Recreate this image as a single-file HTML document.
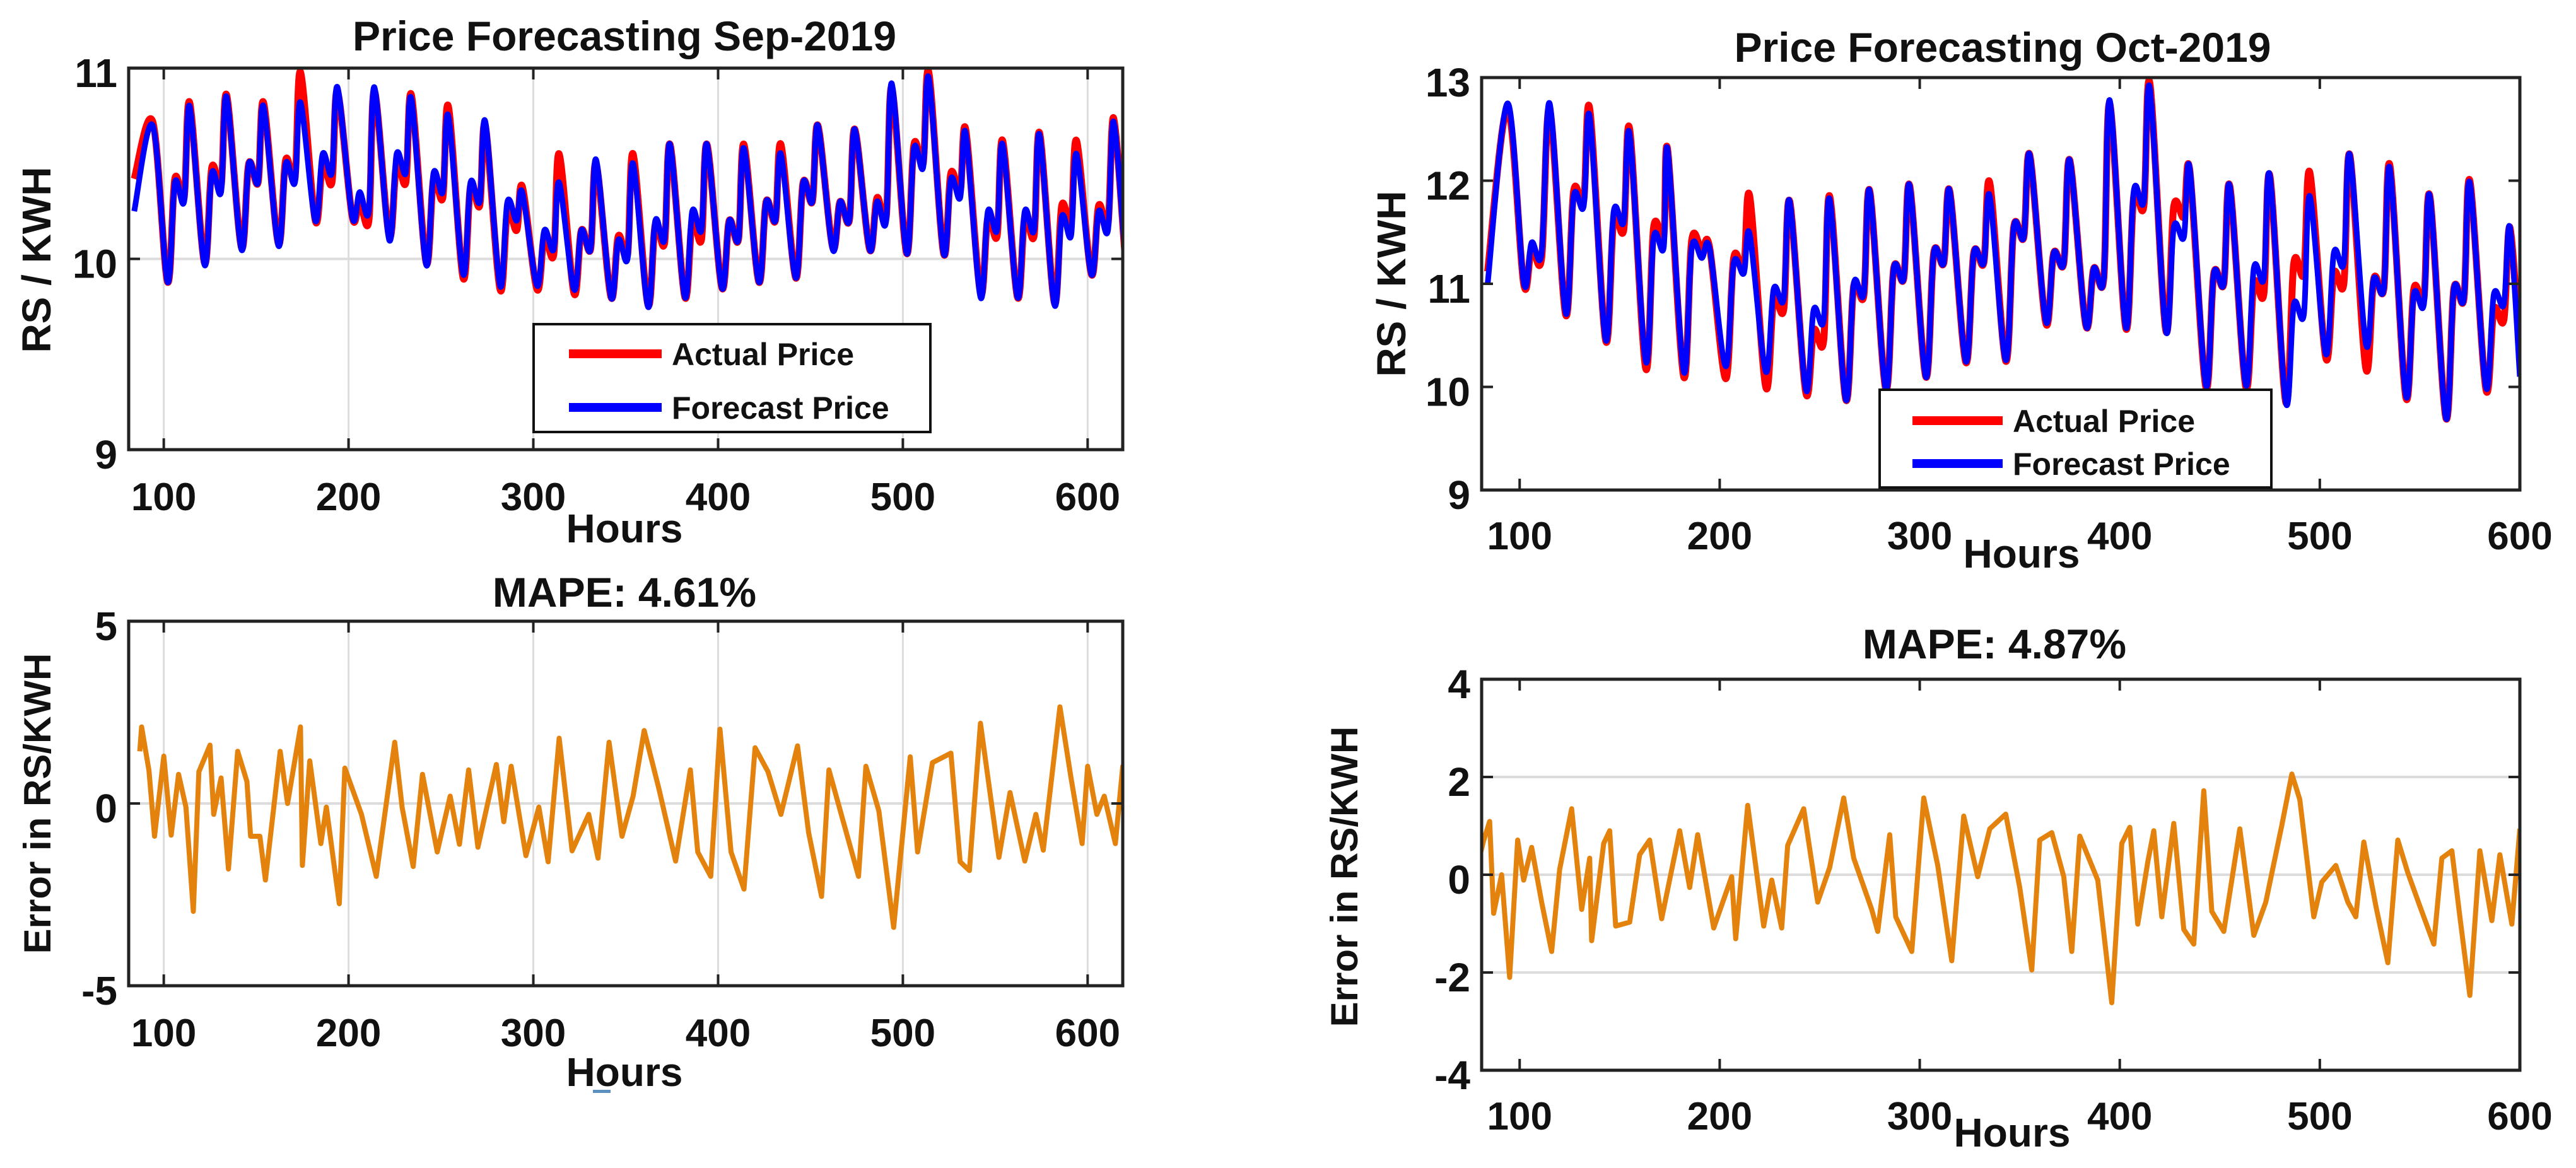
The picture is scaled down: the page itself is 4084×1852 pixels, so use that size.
<!DOCTYPE html>
<html><head><meta charset="utf-8">
<style>
html,body{margin:0;padding:0;background:#fff}
svg{display:block}
text{font-family:"Liberation Sans",Arial,sans-serif;font-weight:bold;fill:#111}
</style></head>
<body>
<svg id="chart" width="4084" height="1852" viewBox="0 0 4084 1852" xmlns="http://www.w3.org/2000/svg"></svg>
<script>
// ---- Sep-2019 price data (per daily cycle) ----
const sepPeakHours=[94,114,134,154,174,194,214,234,254,274,294,314,334,354,374,394,414,434,454,474,494,514,534,554,574,594,614];
const sepPeakA=[10.72,10.82,10.86,10.82,10.98,10.88,10.88,10.86,10.8,10.7,10.38,10.55,10.5,10.55,10.6,10.6,10.6,10.6,10.7,10.68,10.9,10.98,10.68,10.62,10.66,10.62,10.74];
const sepPeakF=[10.7,10.8,10.85,10.8,10.82,10.9,10.9,10.84,10.75,10.72,10.35,10.4,10.52,10.5,10.6,10.6,10.58,10.55,10.7,10.68,10.92,10.95,10.66,10.6,10.65,10.55,10.72];
const sepTroughA=[9.88,9.98,10.06,10.08,10.2,10.22,10.12,9.98,9.9,9.84,9.84,9.82,9.8,9.76,9.8,9.85,9.88,9.9,10.06,10.05,10.03,10.03,9.82,9.8,9.77,9.92,10.05];
const sepTroughF=[9.88,9.97,10.05,10.07,10.2,10.22,10.1,9.97,9.92,9.86,9.86,9.84,9.8,9.75,9.8,9.85,9.88,9.9,10.05,10.05,10.03,10.03,9.8,9.8,9.76,9.92,10.05];
const sepBumpA=[10.42,10.48,10.5,10.52,10.5,10.3,10.5,10.42,10.38,10.25,10.12,10.15,10.12,10.18,10.2,10.2,10.3,10.4,10.3,10.32,10.6,10.45,10.22,10.22,10.28,10.28,10.1];
const sepBumpF=[10.4,10.45,10.5,10.5,10.55,10.35,10.55,10.45,10.4,10.3,10.15,10.15,10.1,10.2,10.25,10.2,10.3,10.4,10.3,10.3,10.58,10.42,10.25,10.25,10.22,10.25,10.1];
const sepStartA=10.42, sepStartF=10.25;
// ---- Oct-2019 price data ----
const octPeakHours=[94,115,135,155,174,195,215,235,255,275,295,315,335,355,375,395,415,435,455,475,495,515,535,555,575,595];
const octPeakA=[12.7,12.7,12.7,12.5,12.3,11.35,11.85,11.8,11.85,11.9,11.95,11.9,11.98,12.25,12.2,12.75,12.95,12.1,11.95,12.05,12.08,12.25,12.15,11.85,12.0,11.55];
const octPeakF=[12.75,12.75,12.62,12.45,12.3,11.34,11.48,11.8,11.82,11.9,11.95,11.9,11.85,12.25,12.2,12.78,12.9,12.12,11.95,12.05,11.85,12.25,12.12,11.85,11.98,11.55];
const octTroughA=[11.0,10.7,10.45,10.18,10.1,10.08,10.0,9.95,9.88,9.98,10.1,10.24,10.25,10.62,10.6,10.57,10.55,10.0,10.0,9.85,10.28,10.18,9.9,9.7,9.98,10.3];
const octTroughF=[11.02,10.72,10.46,10.25,10.15,10.2,10.15,9.98,9.88,9.98,10.1,10.25,10.26,10.64,10.6,10.58,10.55,10.02,10.02,9.85,10.32,10.42,9.92,9.7,10.0,10.1];
const octBumpA=[11.35,11.9,11.62,11.55,11.42,11.25,10.85,10.55,10.98,11.15,11.3,11.3,11.55,11.3,11.15,11.85,11.75,11.1,11.0,11.2,11.1,11.05,10.95,10.95,10.75,10.9];
const octBumpF=[11.4,11.85,11.7,11.45,11.35,11.2,10.95,10.75,11.0,11.15,11.3,11.3,11.55,11.3,11.15,11.9,11.55,11.1,11.15,10.8,11.3,11.05,10.9,10.95,10.9,10.9];
const octStartA=11.12, octStartF=11.0;
// ---- Error data ----
const sepErrHours=[87,88,92,95,100,104,108,112,116,119,125,127,131,135,140,145,147,152,155,163,167,174,175,179,185,188,195,198,207,215,225,229,235,240,248,255,260,265,270,280,284,288,296,303,308,314,321,330,335,341,348,354,360,368,377,385,389,396,401,407,414,420,427,434,443,449,456,460,476,480,487,495,504,508,516,526,531,536,542,552,558,566,572,576,585,591,597,600,605,609,615,619,620];
const sepErrVals=[1.43,2.1,0.9,-0.9,1.3,-0.87,0.8,-0.1,-2.96,0.87,1.6,-0.3,0.7,-1.8,1.43,0.6,-0.9,-0.9,-2.1,1.43,0,2.1,-1.7,1.17,-1.1,-0.1,-2.75,0.97,-0.3,-2.0,1.68,-0.1,-1.73,0.8,-1.33,0.2,-1.12,0.92,-1.2,1.07,-0.5,1.02,-1.43,-0.1,-1.6,1.79,-1.3,-0.3,-1.5,1.68,-0.9,0.2,2.0,0.4,-1.58,0.92,-1.33,-2.0,2.04,-1.33,-2.35,1.53,0.87,-0.3,1.58,-0.8,-2.55,0.92,-2.0,1.02,-0.2,-3.4,1.28,-1.33,1.12,1.38,-1.6,-1.84,2.2,-1.48,0.3,-1.58,-0.3,-1.28,2.65,0.7,-1.1,1.02,-0.3,0.2,-1.1,1.02,-0.1];
const octErrHours=[80,82,85,87,91,95,99,102,106,111,116,120,126,131,135,136,142,145,148,155,160,165,171,180,185,189,197,206,208,214,222,226,231,234,242,249,255,262,267,276,279,285,288,296,302,309,316,322,329,335,343,350,356,360,366,372,376,380,389,396,401,405,409,414,417,421,427,432,437,442,446,452,460,467,473,481,486,490,497,501,508,514,518,522,528,534,539,544,550,557,561,566,570,575,580,586,590,596,600];
const octErrVals=[0.37,0.7,1.09,-0.79,0,-2.1,0.71,-0.11,0.56,-0.56,-1.57,0.11,1.35,-0.71,0.34,-1.35,0.64,0.9,-1.05,-0.97,0.41,0.71,-0.9,0.9,-0.26,0.82,-1.09,-0.04,-1.31,1.42,-1.05,-0.11,-1.09,0.6,1.35,-0.56,0.15,1.57,0.34,-0.71,-1.16,0.82,-0.86,-1.57,1.57,0.19,-1.76,1.2,-0.04,0.94,1.24,-0.26,-1.95,0.71,0.86,-0.04,-1.57,0.79,-0.11,-2.62,0.64,0.97,-1.01,0.26,0.9,-0.86,1.05,-1.12,-1.42,1.72,-0.75,-1.16,0.94,-1.24,-0.56,1.01,2.06,1.54,-0.86,-0.15,0.19,-0.56,-0.86,0.67,-0.64,-1.8,0.71,0.04,-0.64,-1.42,0.34,0.49,-0.86,-2.47,0.49,-0.94,0.41,-1.01,0.94];
// tick labels
const sepPriceTicks=[9,10,11], sepErrTicks=[-5,0,5], octPriceTicks=[9,10,11,12,13], octErrTicks=[-4,-2,0,2,4];
const sepXTicks=[100,200,300,400,500,600], octXTicks=[100,200,300,400,500,600];

const NS='http://www.w3.org/2000/svg';
const svg=document.getElementById('chart');
function mk(tag,attrs,parent){const e=document.createElementNS(NS,tag);for(const k in attrs)e.setAttribute(k,attrs[k]);(parent||svg).appendChild(e);return e;}

function cycles(hours,peak,trough,bump,startV,endH){
  const pts=[[hours[0]-10,startV]];
  for(let i=0;i<hours.length;i++){
    const p=hours[i];
    pts.push([p,peak[i]]);
    if(p+8<=endH)pts.push([p+8,trough[i]]);
    if(p+12<=endH)pts.push([p+12,bump[i]]);
    if(p+17<=endH)pts.push([p+17,bump[i]-0.1]);
  }
  pts.push([endH,trough[trough.length-1]]);
  return pts;
}

function pathD(P,smooth){
  if(!smooth)return P.map((p,i)=>(i?'L':'M')+p[0].toFixed(1)+','+p[1].toFixed(1)).join('');
  let d='M'+P[0][0].toFixed(1)+','+P[0][1].toFixed(1);
  for(let i=0;i<P.length-1;i++){
    const p0=P[Math.max(0,i-1)],p1=P[i],p2=P[i+1],p3=P[Math.min(P.length-1,i+2)];
    const c1x=p1[0]+(p2[0]-p0[0])/6,c1y=p1[1]+(p2[1]-p0[1])/6;
    const c2x=p2[0]-(p3[0]-p1[0])/6,c2y=p2[1]-(p3[1]-p1[1])/6;
    d+='C'+c1x.toFixed(1)+','+c1y.toFixed(1)+' '+c2x.toFixed(1)+','+c2y.toFixed(1)+' '+p2[0].toFixed(1)+','+p2[1].toFixed(1);
  }
  return d;
}

function axes(cfg){
  const g=mk('g',{});
  
  
  const X=v=>cfg.x0+(v-cfg.xmin)/(cfg.xmax-cfg.xmin)*(cfg.x1-cfg.x0);
  const Y=v=>cfg.y1-(v-cfg.ymin)/(cfg.ymax-cfg.ymin)*(cfg.y1-cfg.y0);
  const clip=mk('clipPath',{id:cfg.name+'-clip'},g);
  mk('rect',{x:cfg.x0,y:cfg.y0-10,width:cfg.x1-cfg.x0,height:cfg.y1-cfg.y0+20},clip);
  if(cfg.vgrid)cfg.xticks.forEach(t=>{const l=mk('line',{x1:X(t),x2:X(t),y1:cfg.y0,y2:cfg.y1,stroke:'#dcdcdc','stroke-width':3},g);});
  cfg.hgrid.forEach(t=>{const l=mk('line',{x1:cfg.x0,x2:cfg.x1,y1:Y(t),y2:Y(t),stroke:'#dcdcdc','stroke-width':4},g);});
  cfg.series.forEach(s=>{
    const P=s.pts.map(p=>[X(p[0]),Y(p[1])]);
    const pa=mk('path',{d:pathD(P,s.smooth),fill:'none',stroke:s.color,'stroke-width':s.w,'stroke-linejoin':'round','clip-path':`url(#${cfg.name}-clip)`},g);
    
    
  });
  const fr=mk('rect',{x:cfg.x0,y:cfg.y0,width:cfg.x1-cfg.x0,height:cfg.y1-cfg.y0,fill:'none',stroke:'#222','stroke-width':5},g);
  
  
  cfg.xticks.forEach(t=>{
    mk('line',{x1:X(t),x2:X(t),y1:cfg.y1,y2:cfg.y1-18,stroke:'#222','stroke-width':4},g);
    mk('line',{x1:X(t),x2:X(t),y1:cfg.y0,y2:cfg.y0+18,stroke:'#222','stroke-width':4},g);
    const tx=mk('text',{x:X(t),y:cfg.y1+cfg.xlabOff,'font-size':62,'text-anchor':'middle'},g);tx.textContent=t;
    
    
  });
  cfg.yticks.forEach(t=>{
    mk('line',{x1:cfg.x0,x2:cfg.x0+18,y1:Y(t),y2:Y(t),stroke:'#222','stroke-width':4},g);
    mk('line',{x1:cfg.x1,x2:cfg.x1-18,y1:Y(t),y2:Y(t),stroke:'#222','stroke-width':4},g);
    const tx=mk('text',{x:cfg.x0-18,y:Y(t)+30,'font-size':64,'text-anchor':'end'},g);tx.textContent=t;
    
    
  });
  const ti=mk('text',{x:cfg.tx,y:cfg.ty,'font-size':66,'text-anchor':'middle'},g);ti.textContent=cfg.title;
  
  
  const xl=mk('text',{x:cfg.hx,y:cfg.hy,'font-size':64,'text-anchor':'middle'},g);xl.textContent='Hours';
  
  
  const yl=mk('text',{x:0,y:0,'font-size':cfg.ylfs,'text-anchor':'middle','transform':`translate(${cfg.ylx},${cfg.yly}) rotate(-90)`},g);yl.textContent=cfg.ylabel;
  
  
  if(cfg.legend){
    const L=cfg.legend;
    const lg=mk('g',{},g);
    
    
    mk('rect',{x:L.x,y:L.y,width:L.w,height:L.h,fill:'#fff',stroke:'#111','stroke-width':4},lg);
    [['Actual Price','#ff0000',L.r1],['Forecast Price','#0000ff',L.r2]].forEach(e=>{
      const en=mk('g',{},lg);
      
      
      mk('line',{x1:L.lx1,x2:L.lx2,y1:e[2],y2:e[2],stroke:e[1],'stroke-width':14},en);
      const t=mk('text',{x:L.lx2+16,y:e[2]+18,'font-size':50},en);t.textContent=e[0];
    });
  }
}

const sepA=cycles(sepPeakHours,sepPeakA,sepTroughA,sepBumpA,sepStartA,620);
const sepF=cycles(sepPeakHours,sepPeakF,sepTroughF,sepBumpF,sepStartF,620);
const octA=cycles(octPeakHours,octPeakA,octTroughA,octBumpA,octStartA,600);
const octF=cycles(octPeakHours,octPeakF,octTroughF,octBumpF,octStartF,600);

axes({name:'sep-price-chart',x0:204,x1:1780,y0:108,y1:713,xmin:81,xmax:619,ymin:9,ymax:11,
  xticks:sepXTicks,yticks:sepPriceTicks,hgrid:[10],vgrid:true,xlabOff:96,
  series:[{pts:sepA,color:'#ff0000',w:11,name:'actual-price-line',smooth:true},{pts:sepF,color:'#0000ff',w:9,name:'forecast-price-line',smooth:true}],
  title:'Price Forecasting Sep-2019',tx:990,ty:80,hx:990,hy:860,ylabel:'RS / KWH',ylx:80,yly:412,ylfs:64,
  legend:{x:846,y:514,w:629,h:171,lx1:902,lx2:1049,r1:561,r2:646}});
axes({name:'sep-error-chart',x0:204,x1:1780,y0:985,y1:1563,xmin:81,xmax:619,ymin:-5,ymax:5,
  xticks:sepXTicks,yticks:sepErrTicks,hgrid:[0],vgrid:true,xlabOff:96,
  series:[{pts:sepErrHours.map((h,i)=>[h,sepErrVals[i]]),color:'#e3830e',w:8,name:'sep-error-line',smooth:false}],
  title:'MAPE: 4.61%',tx:990,ty:962,hx:990,hy:1722,ylabel:'Error in RS/KWH',ylx:80,yly:1274,ylfs:60});
axes({name:'oct-price-chart',x0:2349,x1:3995,y0:123,y1:777,xmin:81,xmax:600,ymin:9,ymax:13,
  xticks:octXTicks,yticks:octPriceTicks,hgrid:[],vgrid:false,xlabOff:94,
  series:[{pts:octA,color:'#ff0000',w:11,name:'actual-price-line',smooth:true},{pts:octF,color:'#0000ff',w:9,name:'forecast-price-line',smooth:true}],
  title:'Price Forecasting Oct-2019',tx:3175,ty:98,hx:3205,hy:900,ylabel:'RS / KWH',ylx:2228,yly:450,ylfs:64,
  legend:{x:2980,y:618,w:621,h:155,lx1:3032,lx2:3175,r1:667,r2:735}});
axes({name:'oct-error-chart',x0:2349,x1:3995,y0:1077,y1:1697,xmin:81,xmax:600,ymin:-4,ymax:4,
  xticks:octXTicks,yticks:octErrTicks,hgrid:[2,0,-2],vgrid:false,xlabOff:94,
  series:[{pts:octErrHours.map((h,i)=>[h,octErrVals[i]]),color:'#e3830e',w:8,name:'oct-error-line',smooth:false}],
  title:'MAPE: 4.87%',tx:3162,ty:1044,hx:3190,hy:1818,ylabel:'Error in RS/KWH',ylx:2152,yly:1390,ylfs:60});
const mark=mk('rect',{x:940,y:1728,width:28,height:5,fill:'#5b8fc0'});


</script>
</body></html>
